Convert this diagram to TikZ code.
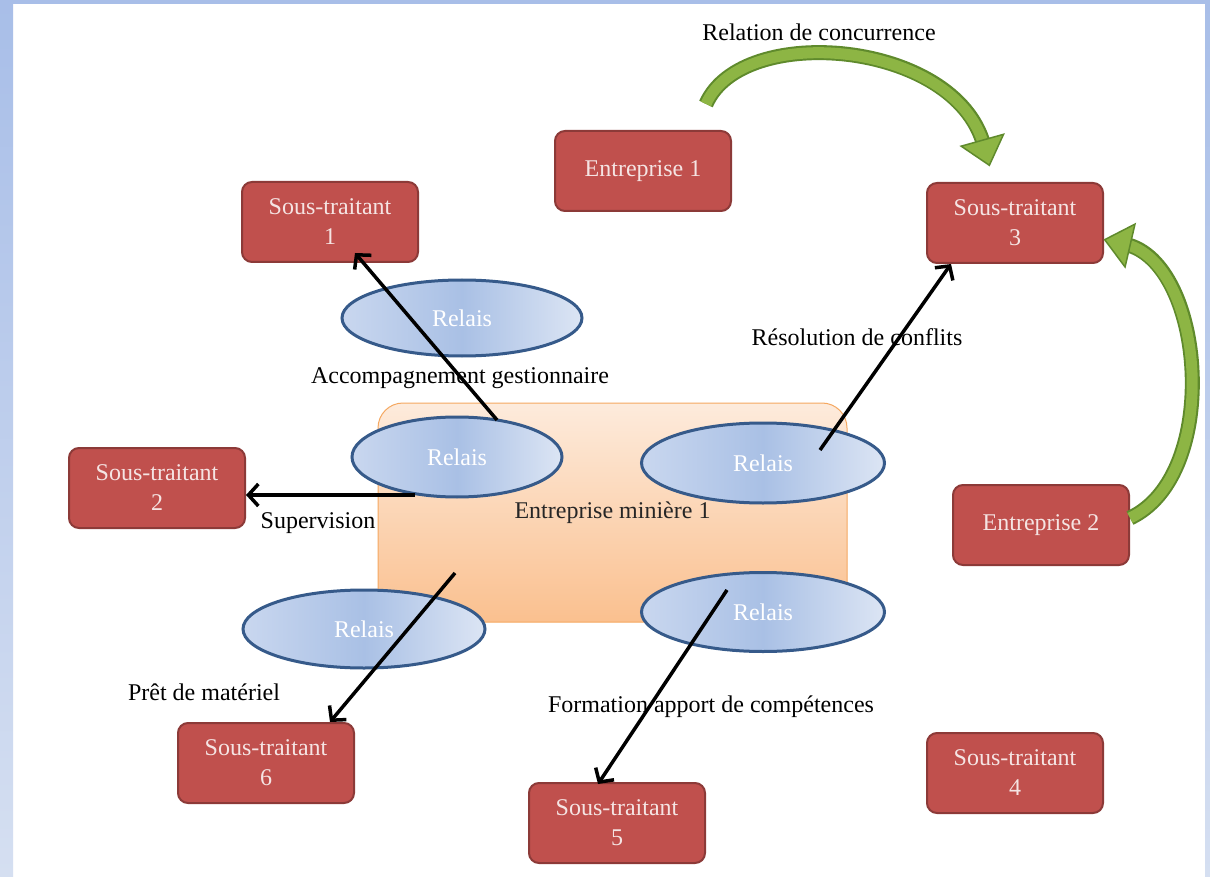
\documentclass[tikz,border=0pt]{standalone}
\usepackage{fontspec}
\setmainfont{Liberation Serif}
\usetikzlibrary{arrows.meta,shapes.geometric,calc,decorations.markings}
\definecolor{boxred}{HTML}{C0504D}
\definecolor{boxedge}{HTML}{8C3A38}
\definecolor{boxtext}{HTML}{F5E4E3}
\definecolor{ellmid}{HTML}{A9C0E5}
\definecolor{ellleft}{HTML}{C9D7EF}
\definecolor{ellright}{HTML}{DCE5F4}
\definecolor{elledge}{HTML}{365A8A}
\definecolor{peachtop}{HTML}{FDEBDC}
\definecolor{peachbot}{HTML}{FAC08F}
\definecolor{peachedge}{HTML}{F5A861}
\definecolor{grnfill}{HTML}{8DB544}
\definecolor{grnedge}{HTML}{5F8A2C}
\definecolor{frametop}{HTML}{A8BEE8}
\definecolor{framebot}{HTML}{D5DFF1}
\begin{document}
\begin{tikzpicture}[x=1pt,y=-1pt,
  every node/.style={font=\fontsize{24}{30}\selectfont},
  redbox/.style={draw=boxedge, line width=2pt, fill=boxred, rounded corners=10pt,
    minimum width=176pt, minimum height=80pt, text=boxtext, align=center, inner sep=0pt},
  relais/.style={ellipse, draw=elledge, line width=3pt, left color=ellleft, right color=ellright,
    middle color=ellmid, text=white, inner sep=0pt},
  minebox/.style={draw=peachedge, line width=1pt, rounded corners=25pt, top color=peachtop,
    bottom color=peachbot, minimum width=469pt, minimum height=219pt, inner sep=0pt, text=black!85},
  lab/.style={text=black, inner sep=0pt},
  conn/.style={line width=3.5pt, black, -{Straight Barb[length=10pt,width=22pt,line width=3.5pt 0 0]}},
  greenhead/.style={postaction={decorate, decoration={markings, mark=at position 0.998 with {
    \filldraw[fill=grnfill, draw=grnedge, line width=1.5pt] (2,0) -- (-24,22) -- (-24,-22) -- cycle;}}}},
  greenedge/.style={draw=grnedge, line width=15pt, shorten >=20pt},
  greenfill/.style={draw=grnfill, line width=11pt, shorten >=19pt},
]
\useasboundingbox (0,0) rectangle (1210,877);
\fill[white] (0,0) rectangle (1210,877);
% frame
\shade[top color=frametop, bottom color=framebot] (0,0) rectangle (13,877);
\shade[top color=frametop, bottom color=framebot] (1205,0) rectangle (1210,877);
\fill[frametop] (0,0) rectangle (1210,4);

% central company
\node[minebox] (mine) at (612.5,512.5) {Entreprise minière 1};

% relay ellipses
\node[relais, minimum width=240pt, minimum height=76pt] (r1) at (462,318) {Relais};
\node[relais, minimum width=210pt, minimum height=80pt] (r2) at (457,457) {Relais};
\node[relais, minimum width=243pt, minimum height=80pt] (r3) at (763,463) {Relais};
\node[relais, minimum width=242pt, minimum height=78pt] (r4) at (364,629) {Relais};
\node[relais, minimum width=243pt, minimum height=79pt] (r5) at (763,612) {Relais};

% boxes
\node[redbox] (e1) at (643,171) {Entreprise 1};
\node[redbox] (st1) at (330,222) {Sous-traitant\\1};
\node[redbox] (st3) at (1015,223) {Sous-traitant\\3};
\node[redbox] (st2) at (157,488) {Sous-traitant\\2};
\node[redbox] (e2) at (1041,525) {Entreprise 2};
\node[redbox] (st6) at (266,763) {Sous-traitant\\6};
\node[redbox] (st5) at (617,823) {Sous-traitant\\5};
\node[redbox] (st4) at (1015,773) {Sous-traitant\\4};

% labels
\node[lab] (lconc) at (819,32) {Relation de concurrence};
\node[lab] (lacc) at (460,378) {Accompagnement gestionnaire};
\node[lab] (lres) at (857,337) {Résolution de conflits};
\node[lab] (lsup) at (318,523) {Supervision};
\node[lab] (lpret) at (204,692) {Prêt de matériel};
\node[lab] (lform) at (711,707) {Formation apport de compétences};

% green competition arrows
\coordinate (g1s) at ($(e1.north east)+(-26,-26)$);
\coordinate (g1e) at ($(st3.north)+(-26,-18)$);
\coordinate (g2s) at ($(e2.east)+(0,-7)$);
\coordinate (g2e) at ($(st3.east)+(2,17)$);
\draw[greenedge] (g1s) .. controls (742,22) and (955,40) .. (g1e);
\draw[greenfill] (g1s) .. controls (742,22) and (955,40) .. (g1e);
\path[greenhead] (g1s) .. controls (742,22) and (955,40) .. (g1e);
\draw[greenedge] (g2s) .. controls (1222,475) and (1205,262) .. (g2e);
\draw[greenfill] (g2s) .. controls (1222,475) and (1205,262) .. (g2e);
\path[greenhead] (g2s) .. controls (1222,475) and (1205,262) .. (g2e);

% black arrows
\coordinate (a1s) at (497,420);
\coordinate (a2s) at (415,495);
\coordinate (a3s) at (820,450);
\coordinate (a4s) at (455,573);
\coordinate (a5s) at (727,590);
\draw[conn] (a1s) -- ($(st1.south)+(25,-10)$);
\draw[conn] (a2s) -- (a2s -| st2.east);
\draw[conn] (a3s) -- ($(st3.south)+(-64,0)$);
\draw[conn] (a4s) -- ($(st6.north)+(64,0)$);
\draw[conn] (a5s) -- ($(st5.north)+(-19,2)$);
\end{tikzpicture}
\end{document}
